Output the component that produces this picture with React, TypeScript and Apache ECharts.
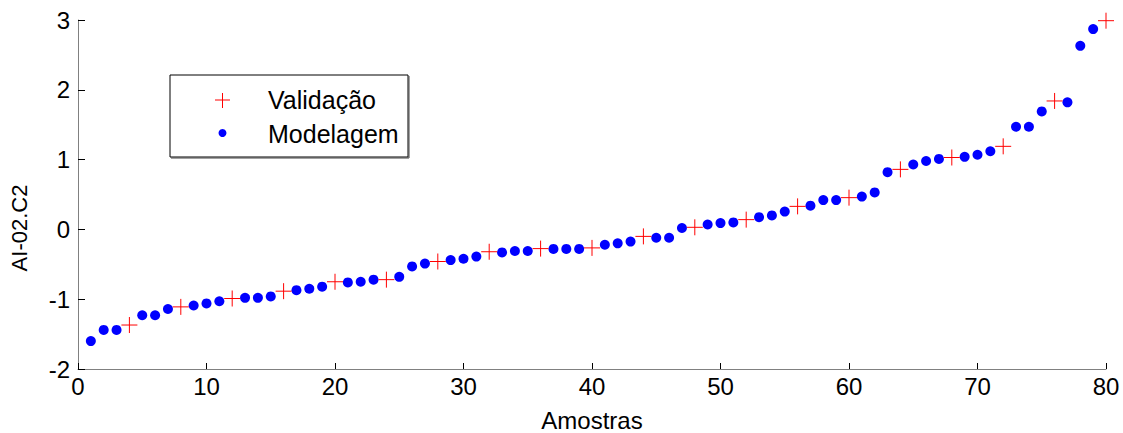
import React, { useEffect, useRef } from "react";
import * as echarts from "echarts";

const samples = Array.from({ length: 80 }, (_, i) => i + 1);
const values = [
  -1.6, -1.44, -1.44, -1.37, -1.23, -1.23, -1.14, -1.11, -1.09, -1.06,
  -1.03, -0.99, -0.98, -0.98, -0.96, -0.885, -0.87, -0.85, -0.82, -0.75,
  -0.76, -0.75, -0.72, -0.72, -0.68, -0.53, -0.49, -0.46, -0.44, -0.42,
  -0.39, -0.32, -0.33, -0.31, -0.31, -0.275, -0.28, -0.28, -0.28, -0.265,
  -0.22, -0.2, -0.175, -0.1, -0.12, -0.12, 0.02, 0.03, 0.07, 0.09,
  0.1, 0.14, 0.175, 0.2, 0.255, 0.33, 0.34, 0.42, 0.42, 0.455,
  0.47, 0.53, 0.82, 0.86, 0.93, 0.98, 1.01, 1.03, 1.04, 1.07,
  1.12, 1.19, 1.47, 1.47, 1.69, 1.84, 1.82, 2.63, 2.87, 2.99,
];
const validationIdx = samples.filter((s) => s % 4 === 0);
const validation = validationIdx.map((s) => [s, values[s - 1]]);
const modelagem = samples.filter((s) => s % 4 !== 0).map((s) => [s, values[s - 1]]);

const xTicks = { min: 0, max: 80, interval: 10 };
const yTicks = { min: -2, max: 3, interval: 1 };
const legendLabels = ["Validação", "Modelagem"];
const axisNames = { x: "Amostras", y: "AI-02.C2" };

const FONT = "Liberation Sans, Arial, sans-serif";
const CROSS = "path://M0,8L16,8M8,0L8,16";

export default function App() {
  const ref = useRef<HTMLDivElement>(null);
  useEffect(() => {
    document.body.style.margin = "0";
    const chart = echarts.init(ref.current!, null, { renderer: "svg" });
    chart.setOption({
      animation: false,
      backgroundColor: "#fff",
      textStyle: { fontFamily: FONT },
      grid: { left: 78, right: 17, top: 20, bottom: 64, containLabel: false, outerBoundsMode: "none" },
      xAxis: {
        type: "value",
        ...xTicks,
        name: axisNames.x,
        nameLocation: "middle",
        nameGap: 39,
        nameTextStyle: { fontSize: 24, color: "#000", fontFamily: FONT },
        axisLine: { show: true, onZero: false, lineStyle: { color: "#808080", width: 1 } },
        axisTick: { show: true, inside: true, length: 6, lineStyle: { color: "#000" } },
        axisLabel: { fontSize: 24, color: "#000", margin: 5, fontFamily: FONT },
        splitLine: { show: false },
      },
      yAxis: {
        type: "value",
        ...yTicks,
        axisLine: { show: true, onZero: false, lineStyle: { color: "#808080", width: 1 } },
        axisTick: { show: true, inside: true, length: 7, lineStyle: { color: "#000" } },
        axisLabel: { fontSize: 24, color: "#000", margin: 8, fontFamily: FONT },
        splitLine: { show: false },
      },
      graphic: [
        {
          type: "text",
          x: 19,
          y: 228,
          rotation: Math.PI / 2,
          style: {
            text: axisNames.y,
            fontSize: 22,
            fill: "#000",
            fontFamily: FONT,
            align: "center",
            verticalAlign: "middle",
          },
        },
        {
          type: "rect",
          shape: { x: 170, y: 75, width: 238, height: 82 },
          style: { fill: "#fff", stroke: "#000", lineWidth: 1 },
          z: 100,
        },
        {
          type: "polyline",
          shape: { points: [[409, 76], [409, 158], [171, 158]] },
          style: { stroke: "#444", lineWidth: 1, fill: "none" },
          z: 100,
        },
        {
          type: "line",
          shape: { x1: 215, y1: 100, x2: 230, y2: 100 },
          style: { stroke: "#ff0000", lineWidth: 1 },
          z: 101,
        },
        {
          type: "line",
          shape: { x1: 222.5, y1: 93, x2: 222.5, y2: 108 },
          style: { stroke: "#ff0000", lineWidth: 1 },
          z: 101,
        },
        {
          type: "circle",
          shape: { cx: 222.5, cy: 133, r: 4 },
          style: { fill: "#0000ff" },
          z: 101,
        },
        {
          type: "text",
          x: 268,
          y: 100,
          style: { text: legendLabels[0], fontSize: 25, fill: "#000", fontFamily: FONT, verticalAlign: "middle" },
          z: 101,
        },
        {
          type: "text",
          x: 268,
          y: 134,
          style: { text: legendLabels[1], fontSize: 25, fill: "#000", fontFamily: FONT, verticalAlign: "middle" },
          z: 101,
        },
      ],
      series: [
        {
          name: legendLabels[1],
          type: "scatter",
          data: modelagem,
          symbol: "circle",
          symbolSize: 10,
          itemStyle: { color: "#0000ff", opacity: 1 },
        },
        {
          name: legendLabels[0],
          type: "scatter",
          data: validation,
          symbol: CROSS,
          symbolSize: 16,
          itemStyle: { color: "none", borderColor: "#ff0000", borderWidth: 1, opacity: 1 },
        },
      ],
    });
    return () => chart.dispose();
  }, []);
  return <div ref={ref} style={{ position: "absolute", left: 0, top: 0, width: 1123, height: 433 }} />;
}
